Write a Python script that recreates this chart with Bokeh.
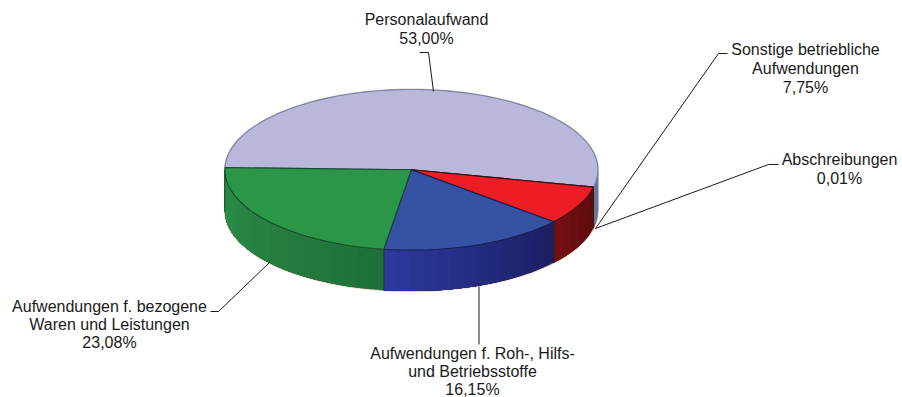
import math
from bokeh.plotting import figure
from bokeh.models import Range1d
from bokeh.core.properties import value
from bokeh.embed import file_html
from bokeh.resources import INLINE

# --- data ---
categories = ["Personalaufwand", "Abschreibungen", "Sonstige betriebliche Aufwendungen",
              "Aufwendungen f. Roh-, Hilfs- und Betriebsstoffe",
              "Aufwendungen f. bezogene Waren und Leistungen"]
shares = [53.00, 0.01, 7.75, 16.15, 23.08]
share_labels = ["53,00%", "0,01%", "7,75%", "16,15%", "23,08%"]

# --- style ---
top_colors = ["#b9b8da", "#6a0d10", "#ee1c25", "#3652a3", "#2b9648"]
edge_colors = ["#6f84a8", "#3a0506", "#3a1012", "#14204f", "#17482a"]
wall_right = ["#5f7190", "#6a0d10", "#5c0a0d", "#1b1e62", "#1e6f39"]
wall_left = ["#66799a", "#6a0d10", "#761014", "#2c3a9e", "#2c8f48"]

# --- layout (in page pixels) ---
W, H = 902, 397
CX, CY, RX, RY, DEPTH = 410.9, 169.3, 186.5, 80.3, 41
START = 178.4

label_lines = [
    (["Personalaufwand", share_labels[0]], 426, [19, 38]),
    (["Abschreibungen", share_labels[1]], 839, [159, 178]),
    (["Sonstige betriebliche", "Aufwendungen", share_labels[2]], 805, [49, 68, 87]),
    (["Aufwendungen f. Roh-, Hilfs-", "und Betriebsstoffe", share_labels[3]], 472, [353, 371, 389]),
    (["Aufwendungen f. bezogene", "Waren und Leistungen", share_labels[4]], 109, [306, 324, 342]),
]
leaders = [
    ([419, 428, 433], [52, 52, 91]),
    ([778, 768, 595], [164, 164, 228]),
    ([727, 718, 595], [53, 53, 228]),
    ([478.5, 478.5], [286, 344]),
    ([269, 218, 210], [262, 311, 311]),
]

def hex2rgb(h):
    return [int(h[i:i + 2], 16) for i in (1, 3, 5)]

def mix(a, b, f):
    ca, cb = hex2rgb(a), hex2rgb(b)
    return "#%02x%02x%02x" % tuple(round(x + (y - x) * f) for x, y in zip(ca, cb))

def pt(deg, dy=0):
    r = math.radians(deg)
    return CX + RX * math.cos(r), CY - RY * math.sin(r) + dy

p = figure(width=W, height=H, x_range=Range1d(0, W), y_range=Range1d(H, 0),
           output_backend="svg", toolbar_location=None, min_border=0,
           outline_line_color=None, background_fill_color="white")
p.axis.visible = False
p.grid.visible = False

# slice angles, clockwise from the left
total = sum(shares)
bounds = [START]
for s in shares:
    bounds.append(bounds[-1] - s / total * 360)

# soft fringe round the silhouette
fr = [pt(a, 0) for a in range(0, 181, 3)]
fb = [pt(a, DEPTH) for a in range(180, 361, 3)]
p.patch([q[0] for q in fr + fb], [q[1] for q in fr + fb], fill_color=None,
        line_color="#ecc9c0", line_width=2.0)

# side walls: front half of each slice; nested shapes painted over each other give the banded shading
for i in range(len(shares)):
    a0, a1 = bounds[i], bounds[i + 1]      # a0 > a1, clockwise
    hi = min(a0, 0)
    lo = max(a1, -180)
    if hi <= lo:
        continue
    n = max(1, int((hi - lo) / 4))
    for k in range(n):
        b0 = hi - (hi - lo) * k / n
        steps = max(2, int((b0 - lo) / 1.5))
        arc = [b0 - (b0 - lo) * m / steps for m in range(steps + 1)]
        q = [pt(b) for b in arc] + [pt(b, DEPTH) for b in reversed(arc)]
        c = mix(wall_right[i], wall_left[i], (k + 0.5) / n)
        p.patch([e[0] for e in q], [e[1] for e in q], fill_color=c, line_color=None)
    for b in (hi, lo):
        ex = [pt(b), pt(b, DEPTH)]
        p.line([c[0] for c in ex], [c[1] for c in ex], line_color=edge_colors[i], line_width=1)

# top face
for i in range(len(shares)):
    a0, a1 = bounds[i], bounds[i + 1]
    n = max(2, int((a0 - a1) / 1.5))
    q = [(CX, CY)] + [pt(a0 - (a0 - a1) * k / n) for k in range(n + 1)]
    p.patch([c[0] for c in q], [c[1] for c in q], fill_color=top_colors[i],
            line_color=edge_colors[i], line_width=1.1)

# leader lines
for lx, ly in leaders:
    p.line(lx, ly, line_color="#1a1a1a", line_width=1)

# labels
for lines, x, ys in label_lines:
    p.text([x] * len(lines), ys, text=lines, text_align="center", text_baseline="middle",
           text_font=value("Liberation Sans"), text_font_size="16px", text_color="#1a1a1a")

open("out.html", "w").write(file_html(p, INLINE))
